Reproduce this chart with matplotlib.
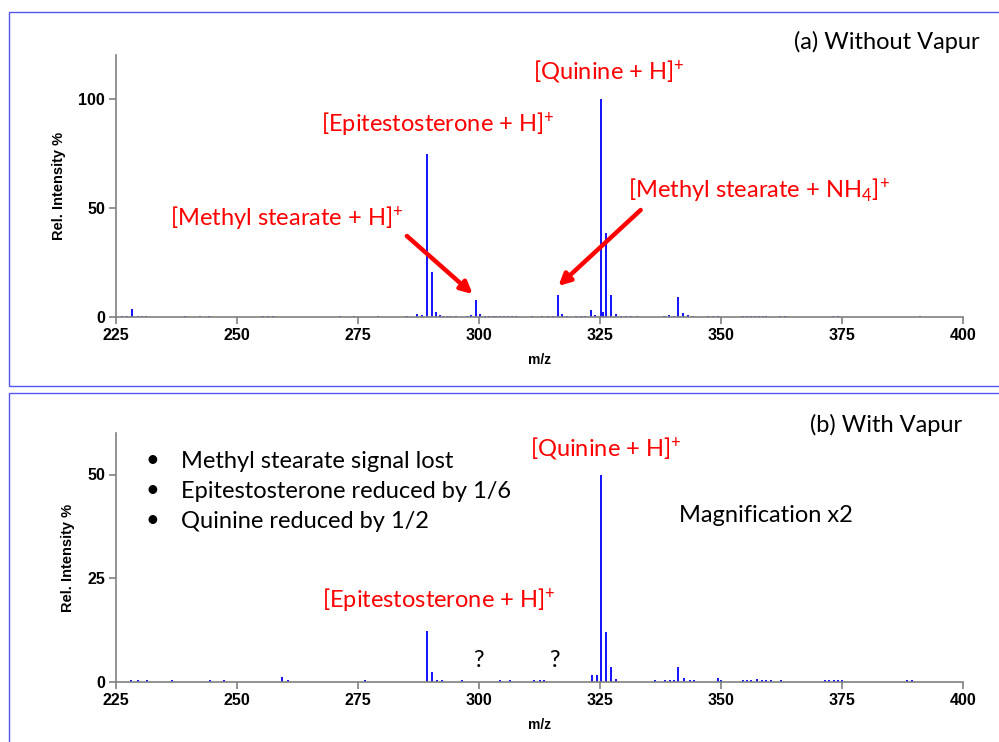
import numpy as np
import matplotlib
matplotlib.use("Agg")
from matplotlib import pyplot as plt
from matplotlib.patches import Rectangle

# (a) without Vapur - peak m/z and rel. intensity
top_mz = [226.2, 227.2, 228.3, 229.5, 230.3, 231.3, 239.2, 242.3, 244.2, 255.4, 256.4, 257.4,
          271.3, 274.2, 279.2, 285.2, 287.2, 288.2, 289.2, 290.2, 291.2, 292.0, 292.6, 293.3,
          294.0, 295.3, 297.5, 298.3, 299.3, 300.3, 301.2, 302.0, 302.8, 303.6, 304.4, 305.2,
          306.0, 306.8, 307.6, 311.0, 313.1, 314.2, 315.2, 316.3, 317.2, 318.2, 320.0, 321.0,
          322.0, 323.1, 323.9, 325.2, 325.6, 326.2, 327.2, 328.3, 329.3, 330.4, 331.5, 332.6,
          338.3, 339.3, 340.2, 341.2, 342.2, 343.2, 344.3, 347.4, 348.4, 349.3, 354.5, 355.3,
          356.1, 357.0, 357.8, 358.6, 359.4, 362.2, 363.2, 373.1, 374.1, 391.1]
top_int = [0.6, 0.6, 3.5, 0.6, 0.6, 0.6, 0.6, 0.6, 0.6, 0.6, 0.6, 0.6,
           0.6, 0.6, 0.6, 0.6, 1.3, 0.8, 74.6, 20.4, 2.2, 0.8, 0.6, 0.6,
           0.5, 0.6, 0.6, 0.8, 7.8, 1.2, 0.6, 0.6, 0.6, 0.6, 0.6, 0.6,
           0.6, 0.6, 0.6, 0.6, 0.6, 0.6, 0.6, 10.0, 1.6, 0.6, 0.6, 0.6,
           0.6, 3.0, 0.8, 100.0, 2.5, 38.4, 10.3, 1.5, 0.6, 0.6, 0.6, 0.6,
           0.6, 0.8, 0.6, 9.3, 2.0, 0.8, 0.6, 0.6, 0.6, 0.6, 0.6, 0.6,
           0.6, 0.6, 0.6, 0.6, 0.6, 0.6, 0.6, 0.6, 0.6, 0.6]

# (b) with Vapur
bot_mz = [228.2, 229.5, 231.5, 236.5, 244.4, 247.3, 259.2, 260.5, 276.4, 289.2, 290.3, 291.4,
          292.3, 296.4, 304.3, 306.5, 311.4, 312.5, 313.4, 323.3, 324.3, 325.2, 326.2, 327.2,
          328.4, 336.4, 338.4, 339.5, 340.3, 341.2, 342.4, 343.5, 344.5, 349.3, 350.1, 354.6,
          355.4, 356.3, 357.4, 358.4, 359.4, 360.4, 362.3, 371.5, 372.4, 373.3, 374.2, 375.1,
          388.5, 389.5]
bot_int = [0.4, 0.4, 0.4, 0.4, 0.4, 0.4, 1.1, 0.4, 0.4, 12.2, 2.4, 0.5,
           0.4, 0.4, 0.4, 0.4, 0.4, 0.4, 0.4, 1.6, 1.6, 50.0, 12.0, 3.5,
           0.8, 0.4, 0.4, 0.4, 0.5, 3.5, 1.0, 0.4, 0.4, 1.0, 0.4, 0.4,
           0.4, 0.4, 0.7, 0.4, 0.4, 0.4, 0.4, 0.4, 0.4, 0.5, 0.4, 0.4,
           0.4, 0.4]

x_ticks = [225, 250, 275, 300, 325, 350, 375, 400]
top_yticks = [0, 50, 100]
bot_yticks = [0, 25, 50]

bullets = ["Methyl stearate signal lost",
           "Epitestosterone reduced by 1/6",
           "Quinine reduced by 1/2"]

plt.rcParams['mathtext.fontset'] = 'custom'
plt.rcParams['mathtext.rm'] = 'Lato'
plt.rcParams['mathtext.it'] = 'Lato:italic'

W, H = 999, 742
SPINE = "#808080"
BOX = "#5555f0"
LBL = dict(family="Lato", fontsize=17)


def setup_axes(ax, ymax, yticks):
    ax.set_xlim(225, 400)
    ax.set_ylim(0, ymax)
    ax.spines['top'].set_visible(False)
    ax.spines['right'].set_visible(False)
    for s in ('left', 'bottom'):
        ax.spines[s].set_color(SPINE)
        ax.spines[s].set_linewidth(1.2)
    ax.set_xticks(x_ticks)
    ax.set_yticks(yticks)
    ax.tick_params(direction='out', length=5, width=1.2, color=SPINE, labelsize=11.5, pad=3)
    for t in ax.get_xticklabels() + ax.get_yticklabels():
        t.set_fontweight('bold')
        t.set_family('Liberation Sans')
    ax.set_xlabel("m/z", fontsize=10, fontweight='bold', family='Liberation Sans', labelpad=7)
    ax.set_ylabel("Rel. Intensity %", fontsize=10.5, fontweight='bold', family='Liberation Sans',
                  labelpad=9)


def main():
    fig = plt.figure(figsize=(W / 100, H / 100), dpi=100)

    # blue frames around the two panels
    fig.patches.append(Rectangle((8.5 / W, 1 - 385.5 / H), 1.0, 374 / H, transform=fig.transFigure,
                                 fill=False, edgecolor=BOX, lw=1.0))
    fig.patches.append(Rectangle((8.5 / W, -0.01), 1.0, 1 - 392.5 / H + 0.01, transform=fig.transFigure,
                                 fill=False, edgecolor=BOX, lw=1.0))

    ax1 = fig.add_axes([116 / W, 1 - 317 / H, 847 / W, 262 / H])
    ax2 = fig.add_axes([116 / W, 1 - 682 / H, 847 / W, 249 / H])

    ax1.vlines(top_mz, 0, top_int, color='#0000ff', lw=1.3)
    setup_axes(ax1, 120, top_yticks)

    ax1.text(326.9, 112.2, r"[Quinine + H]$^{+}$", color='red', ha='center', va='center', **LBL)
    ax1.text(291.4, 88.4, r"[Epitestosterone + H]$^{+}$", color='red', ha='center', va='center', **LBL)
    ax1.text(357.9, 58.2, r"[Methyl stearate + NH$_{4}$]$^{+}$", color='red', ha='center', va='center', **LBL)
    ax1.text(260.3, 45.4, r"[Methyl stearate + H]$^{+}$", color='red', ha='center', va='center', **LBL)

    arrow = dict(arrowstyle='-|>,head_length=0.7,head_width=0.35', color='red', lw=3.2,
                 shrinkA=0, shrinkB=0)
    ax1.annotate("", xy=(298.7, 10.5), xytext=(285.1, 37.1), arrowprops=arrow)
    ax1.annotate("", xy=(316.4, 14.2), xytext=(333.4, 49.0), arrowprops=arrow)

    ax2.vlines(bot_mz, 0, bot_int, color='#0000ff', lw=1.3)
    setup_axes(ax2, 60, bot_yticks)

    ax2.text(326.1, 56.3, r"[Quinine + H]$^{+}$", color='red', ha='center', va='center', **LBL)
    ax2.text(291.8, 19.7, r"[Epitestosterone + H]$^{+}$", color='red', ha='center', va='center', **LBL)
    ax2.text(299.8, 5.3, "?", color='black', ha='center', va='center', **LBL)
    ax2.text(315.5, 5.3, "?", color='black', ha='center', va='center', **LBL)

    fig.text(980 / W, 1 - 42 / H, "(a) Without Vapur", ha='right', va='center', **LBL)
    fig.text(962 / W, 1 - 425 / H, "(b) With Vapur", ha='right', va='center', **LBL)
    for i, b in enumerate(bullets):
        y = 1 - (461 + 30 * i) / H
        fig.text(152 / W, y, "\u2022", ha='center', va='center', **LBL)
        fig.text(181 / W, y, b, ha='left', va='center', **LBL)
    fig.text(679 / W, 1 - 515 / H, "Magnification x2", ha='left', va='center', **LBL)

    fig.savefig("out.png", dpi=100)


if __name__ == '__main__':
    main()
